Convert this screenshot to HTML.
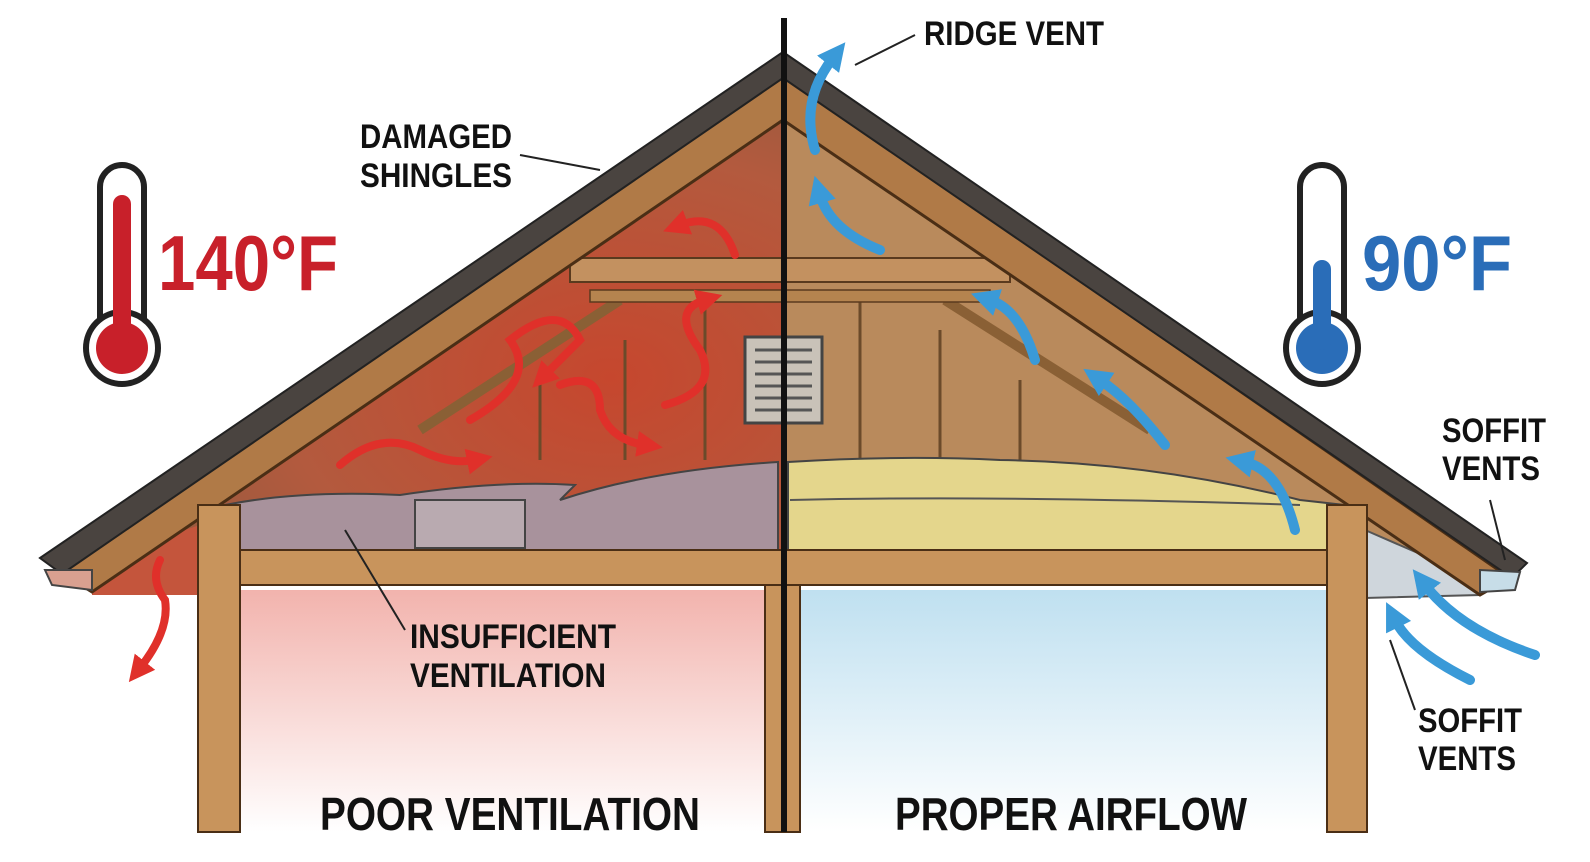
<!DOCTYPE html>
<html><head><meta charset="utf-8"><style>
html,body{margin:0;padding:0;background:#fff;}
svg{display:block}
text{font-family:"Liberation Sans Narrow","Liberation Sans",sans-serif;font-weight:bold;}
</style></head><body>
<svg width="1590" height="862" viewBox="0 0 1590 862" xmlns="http://www.w3.org/2000/svg">
<defs>
<linearGradient id="lroom" x1="0" y1="0" x2="0" y2="1"><stop offset="0" stop-color="#f2b3ad"/><stop offset="1" stop-color="#ffffff"/></linearGradient>
<linearGradient id="rroom" x1="0" y1="0" x2="0" y2="1"><stop offset="0" stop-color="#bfe0f0"/><stop offset="1" stop-color="#ffffff"/></linearGradient>
<radialGradient id="latt" cx="0.75" cy="0.55" r="0.8"><stop offset="0" stop-color="#c6472e"/><stop offset="0.6" stop-color="#b35a3e"/><stop offset="1" stop-color="#8e5a3e"/></radialGradient>
<marker id="ra" markerUnits="userSpaceOnUse" markerWidth="26" markerHeight="26" refX="8" refY="13" orient="auto"><path d="M0,0 L26,13 L0,26 Z" fill="#e0302a"/></marker>
<marker id="ba" markerUnits="userSpaceOnUse" markerWidth="28" markerHeight="28" refX="8" refY="14" orient="auto"><path d="M0,0 L28,14 L0,28 Z" fill="#3a9ad8"/></marker>
</defs>
<!-- rooms -->
<rect x="240" y="590" width="525" height="242" fill="url(#lroom)"/>
<rect x="800" y="590" width="527" height="242" fill="url(#rroom)"/>
<!-- attic fills -->
<polygon points="92,590 783,118 783,555 92,555" fill="url(#latt)"/>
<polygon points="783,118 1480,592 1480,555 783,555" fill="#b98a5c"/>
<!-- studs in attic -->
<g stroke="#6b4a2a" stroke-width="3">
<line x1="540" y1="380" x2="540" y2="460"/><line x1="625" y1="340" x2="625" y2="460"/><line x1="705" y1="290" x2="705" y2="460"/>
<line x1="860" y1="290" x2="860" y2="460"/><line x1="940" y1="330" x2="940" y2="460"/><line x1="1020" y1="380" x2="1020" y2="460"/>
</g>
<!-- braces -->
<g stroke="#8a6035" stroke-width="10">
<line x1="620" y1="300" x2="420" y2="430"/><line x1="945" y1="300" x2="1150" y2="430"/>
</g>
<!-- collar tie -->
<rect x="570" y="258" width="440" height="24" fill="#c39160" stroke="#5a3a1e" stroke-width="2"/>
<rect x="590" y="290" width="400" height="12" fill="#b5844f" stroke="#5a3a1e" stroke-width="1.5"/>
<!-- gable vent -->
<rect x="745" y="337" width="77" height="86" fill="#c9c2b8" stroke="#444" stroke-width="3"/>
<g stroke="#555" stroke-width="3"><line x1="755" y1="350" x2="812" y2="350"/><line x1="755" y1="362" x2="812" y2="362"/><line x1="755" y1="374" x2="812" y2="374"/><line x1="755" y1="386" x2="812" y2="386"/><line x1="755" y1="398" x2="812" y2="398"/><line x1="755" y1="410" x2="812" y2="410"/></g>
<!-- insulation -->
<path d="M225,505 Q300,490 400,495 Q500,480 575,485 L560,500 Q650,470 778,462 L778,550 L225,550 Z" fill="#a8929c" stroke="#444" stroke-width="2"/>
<rect x="415" y="500" width="110" height="48" fill="#b9aab0" stroke="#444" stroke-width="2"/>
<path d="M788,462 Q900,455 1000,460 Q1150,462 1300,500 L1345,505 L1345,550 L788,550 Z" fill="#e4d68c" stroke="#444" stroke-width="2"/>
<path d="M790,500 Q1000,495 1300,505" fill="none" stroke="#555" stroke-width="2"/>
<!-- soffit right -->
<polygon points="1365,530 1480,580 1480,595 1365,598" fill="#cfd6dc" stroke="#555" stroke-width="2"/>
<polygon points="92,560 200,525 200,595 92,595" fill="#c4553c"/>
<!-- roof rafter band -->
<polygon points="60,572 783,75 1510,578 1480,595 783,120 92,592" fill="#b07a47" stroke="#4a2e15" stroke-width="3"/>
<!-- shingles -->
<polygon points="40,558 783,52 1527,563 1512,578 783,78 62,574" fill="#4a4440" stroke="#222" stroke-width="2"/>
<!-- eaves -->
<polygon points="45,570 92,570 92,590 52,585" fill="#d9a090" stroke="#444" stroke-width="2"/>
<polygon points="1480,570 1520,572 1515,590 1480,592" fill="#c7dde8" stroke="#444" stroke-width="2"/>
<!-- ceiling joist -->
<rect x="200" y="550" width="1165" height="35" fill="#c8945c" stroke="#4a2e15" stroke-width="2"/>
<!-- walls -->
<rect x="198" y="505" width="42" height="327" fill="#c8945c" stroke="#4a2e15" stroke-width="2"/>
<rect x="1327" y="505" width="40" height="327" fill="#c8945c" stroke="#4a2e15" stroke-width="2"/>
<rect x="765" y="585" width="35" height="247" fill="#c8945c" stroke="#4a2e15" stroke-width="2"/>
<!-- center line -->
<line x1="784" y1="18" x2="784" y2="832" stroke="#111" stroke-width="6"/>
<!-- red arrows -->
<g fill="none" stroke="#e0302a" stroke-width="8" stroke-linecap="round" marker-end="url(#ra)">
<path d="M735,255 Q720,210 680,225"/>
<path d="M340,465 Q380,430 420,450 Q450,465 475,460"/>
<path d="M470,420 Q540,380 510,340 Q560,300 580,340 L545,375"/>
<path d="M560,385 Q600,370 600,410 Q610,440 645,445"/>
<path d="M665,405 Q720,390 700,350 Q670,310 705,300"/>
<path d="M160,560 Q150,580 165,600 Q170,630 140,668"/>
</g>
<!-- blue arrows -->
<g fill="none" stroke="#3a9ad8" stroke-width="10" stroke-linecap="round" marker-end="url(#ba)">
<path d="M815,150 Q800,100 833,58"/>
<path d="M880,250 Q830,230 820,195"/>
<path d="M1035,360 Q1020,310 990,300"/>
<path d="M1165,445 Q1130,400 1100,380"/>
<path d="M1295,530 Q1280,470 1245,462"/>
<path d="M1535,655 Q1460,630 1425,585"/>
<path d="M1470,680 Q1410,650 1395,620"/>
</g>
<!-- leader lines -->
<g stroke="#222" stroke-width="2" fill="none">
<line x1="855" y1="65" x2="915" y2="35"/>
<line x1="520" y1="155" x2="600" y2="170"/>
<line x1="345" y1="530" x2="405" y2="630"/>
<line x1="1490" y1="500" x2="1505" y2="560"/>
<line x1="1415" y1="710" x2="1390" y2="640"/>
</g>
<!-- thermometers -->
<g>
<rect x="100" y="165" width="44" height="180" rx="22" fill="#fff" stroke="#222" stroke-width="6"/>
<circle cx="122" cy="348" r="36" fill="#fff" stroke="#222" stroke-width="6"/>
<circle cx="122" cy="348" r="26" fill="#c8202a"/>
<rect x="113" y="195" width="18" height="150" rx="9" fill="#c8202a"/>
</g>
<g>
<rect x="1300" y="165" width="44" height="180" rx="22" fill="#fff" stroke="#222" stroke-width="6"/>
<circle cx="1322" cy="348" r="36" fill="#fff" stroke="#222" stroke-width="6"/>
<circle cx="1322" cy="348" r="26" fill="#2a6db8"/>
<rect x="1313" y="260" width="18" height="90" rx="9" fill="#2a6db8"/>
</g>
<!-- text -->
<text x="158" y="290" font-size="78" fill="#c8202a" textLength="180" lengthAdjust="spacingAndGlyphs">140°F</text>
<text x="1362" y="290" font-size="78" fill="#2a6db8" textLength="150" lengthAdjust="spacingAndGlyphs">90°F</text>
<g font-size="34" fill="#111">
<text x="924" y="45" textLength="180" lengthAdjust="spacingAndGlyphs">RIDGE VENT</text>
<text x="360" y="148" textLength="152" lengthAdjust="spacingAndGlyphs">DAMAGED</text>
<text x="360" y="187" textLength="152" lengthAdjust="spacingAndGlyphs">SHINGLES</text>
<text x="410" y="648" textLength="206" lengthAdjust="spacingAndGlyphs">INSUFFICIENT</text>
<text x="410" y="687" textLength="196" lengthAdjust="spacingAndGlyphs">VENTILATION</text>
<text x="1442" y="442" textLength="104" lengthAdjust="spacingAndGlyphs">SOFFIT</text>
<text x="1442" y="480" textLength="98" lengthAdjust="spacingAndGlyphs">VENTS</text>
<text x="1418" y="732" textLength="104" lengthAdjust="spacingAndGlyphs">SOFFIT</text>
<text x="1418" y="770" textLength="98" lengthAdjust="spacingAndGlyphs">VENTS</text>
</g>
<g font-size="46" fill="#111">
<text x="320" y="830" textLength="380" lengthAdjust="spacingAndGlyphs">POOR VENTILATION</text>
<text x="895" y="830" textLength="352" lengthAdjust="spacingAndGlyphs">PROPER AIRFLOW</text>
</g>
</svg>
</body></html>
